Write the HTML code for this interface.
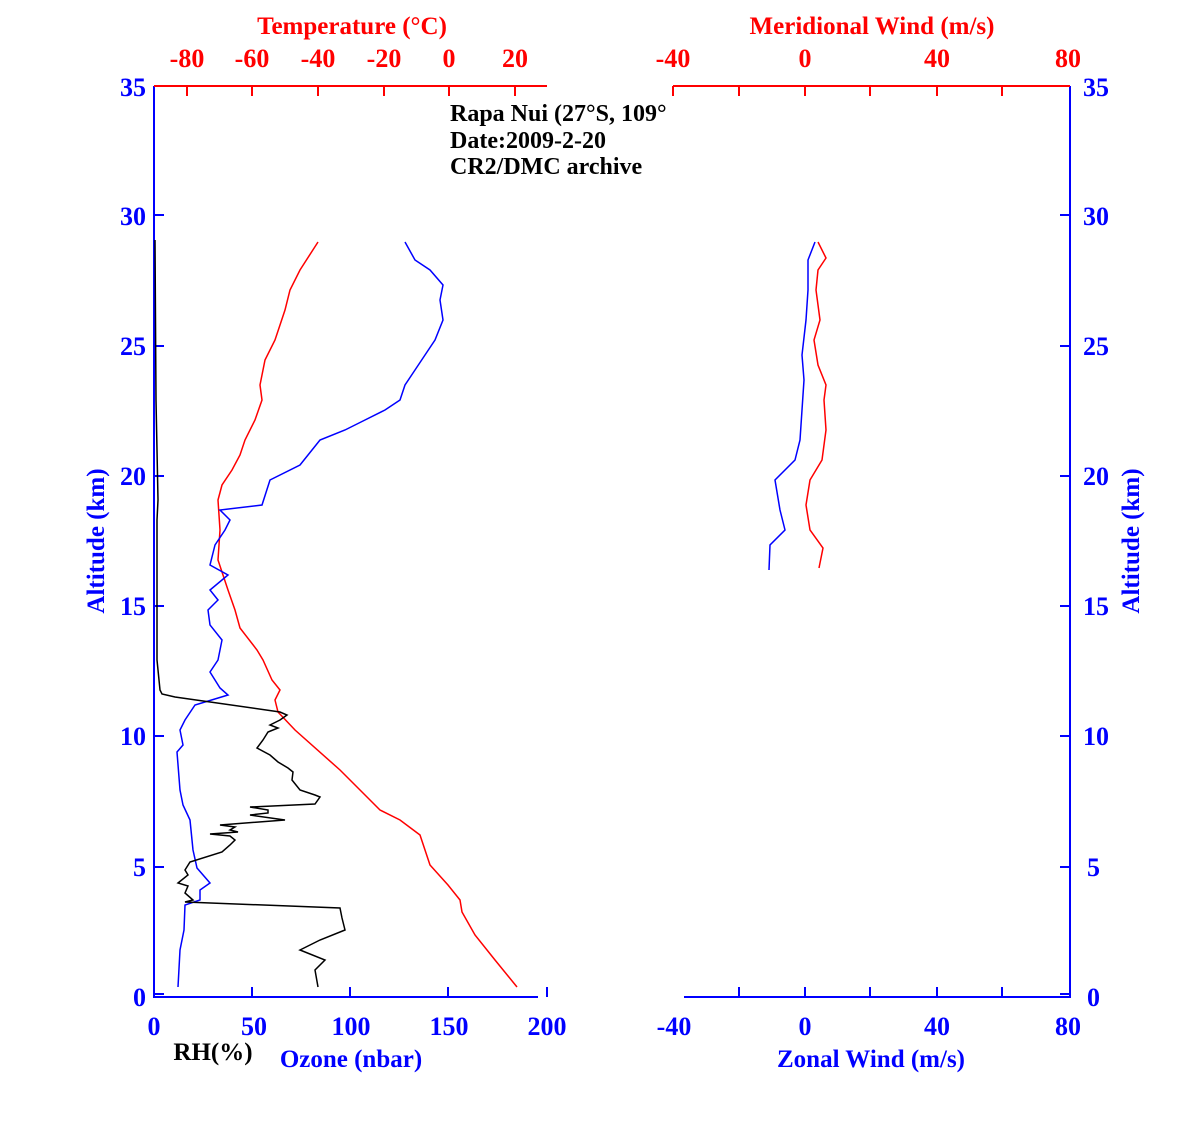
<!DOCTYPE html>
<html><head><meta charset="utf-8"><style>
html,body{margin:0;padding:0;background:#fff}
svg{display:block}
text{font-family:"Liberation Serif",serif;font-weight:bold}
</style></head><body>
<svg width="1181" height="1122" viewBox="0 0 1181 1122" xmlns="http://www.w3.org/2000/svg">
<g fill="none" stroke-width="1.5">
<line x1="154" y1="86" x2="154" y2="998" stroke="#00f" stroke-width="2"/>
<line x1="154" y1="997" x2="538" y2="997" stroke="#00f" stroke-width="2"/>
<g stroke="#00f" stroke-width="2">
<line x1="252" y1="997" x2="252" y2="987"/><line x1="350" y1="997" x2="350" y2="987"/><line x1="448" y1="997" x2="448" y2="987"/><line x1="547" y1="997" x2="547" y2="987"/>
<line x1="154" y1="867" x2="164" y2="867"/><line x1="154" y1="736" x2="164" y2="736"/><line x1="154" y1="606" x2="164" y2="606"/><line x1="154" y1="476" x2="164" y2="476"/><line x1="154" y1="346" x2="164" y2="346"/><line x1="154" y1="215" x2="164" y2="215"/><line x1="154" y1="994" x2="164" y2="994"/>
</g>
<line x1="154" y1="86" x2="547" y2="86" stroke="#f00" stroke-width="2"/>
<g stroke="#f00" stroke-width="2">
<line x1="187" y1="86" x2="187" y2="96"/><line x1="252" y1="86" x2="252" y2="96"/><line x1="318" y1="86" x2="318" y2="96"/><line x1="384" y1="86" x2="384" y2="96"/><line x1="449" y1="86" x2="449" y2="96"/><line x1="515" y1="86" x2="515" y2="96"/>
</g>
<line x1="1070" y1="86" x2="1070" y2="998" stroke="#00f" stroke-width="2"/>
<line x1="684" y1="997" x2="1070" y2="997" stroke="#00f" stroke-width="2"/>
<g stroke="#00f" stroke-width="2">
<line x1="739" y1="997" x2="739" y2="987"/><line x1="805" y1="997" x2="805" y2="987"/><line x1="870" y1="997" x2="870" y2="987"/><line x1="937" y1="997" x2="937" y2="987"/><line x1="1002" y1="997" x2="1002" y2="987"/>
<line x1="1060" y1="867" x2="1070" y2="867"/><line x1="1060" y1="736" x2="1070" y2="736"/><line x1="1060" y1="606" x2="1070" y2="606"/><line x1="1060" y1="476" x2="1070" y2="476"/><line x1="1060" y1="346" x2="1070" y2="346"/><line x1="1060" y1="215" x2="1070" y2="215"/><line x1="1060" y1="994" x2="1070" y2="994"/>
</g>
<line x1="673" y1="86" x2="1070" y2="86" stroke="#f00" stroke-width="2"/>
<g stroke="#f00" stroke-width="2">
<line x1="673" y1="86" x2="673" y2="96"/><line x1="739" y1="86" x2="739" y2="96"/><line x1="805" y1="86" x2="805" y2="96"/><line x1="870" y1="86" x2="870" y2="96"/><line x1="937" y1="86" x2="937" y2="96"/><line x1="1002" y1="86" x2="1002" y2="96"/>
</g>
<polyline stroke="#f00" points="517,987 495,960 475,935 462,912 460,900 448,885 430,865 420,835 400,820 380,810 370,800 340,770 295,730 278,712 275,700 280,690 272,680 263,660 257,650 240,628 235,610 228,590 218,560 220,530 218,500 222,485 232,470 240,455 245,440 255,420 262,400 260,385 265,360 275,340 285,310 290,290 300,270 318,242"/>
<polyline stroke="#00f" points="178,987 180,950 184,930 185,905 200,900 200,890 210,883 197,868 193,850 190,820 183,805 180,790 177,752 183,745 180,730 185,720 195,705 228,695 220,688 210,672 218,660 222,640 210,625 208,610 218,600 210,590 228,575 210,565 215,545 225,530 230,520 220,510 262,505 270,480 300,465 320,440 345,430 365,420 385,410 400,400 405,385 415,370 425,355 435,340 443,320 440,300 443,285 430,270 415,260 405,242"/>
<polyline stroke="#000" points="318,987 315,970 325,960 300,950 320,940 345,930 342,918 340,908 185,902 193,900 185,893 188,886 178,883 188,875 185,870 190,862 222,852 230,845 235,840 230,836 210,834 238,832 230,830 235,827 220,825 285,820 250,815 268,813 268,810 250,807 315,804 320,797 315,795 300,790 292,780 293,772 288,768 278,762 270,755 257,748 263,740 268,732 278,728 270,725 280,720 287,715 280,712 175,697 162,694 160,690 157,660 157,600 157,520 158,500 156,400 155,240"/>
<polyline stroke="#f00" points="819,568 823,548 810,530 806,505 810,480 822,460 826,430 824,400 826,385 818,365 814,340 820,320 816,290 818,270 826,258 818,242"/>
<polyline stroke="#00f" points="769,570 770,545 785,530 780,510 775,480 795,460 800,440 802,410 804,380 802,355 806,320 808,290 808,260 815,242"/>
</g>
<g font-size="26" fill="#00f" text-anchor="end">
<text x="146" y="96">35</text><text x="146" y="225">30</text><text x="146" y="355">25</text><text x="146" y="485">20</text><text x="146" y="615">15</text><text x="146" y="745">10</text><text x="146" y="876">5</text><text x="146" y="1006">0</text>
</g>
<g font-size="26" fill="#00f" text-anchor="start">
<text x="1083" y="96">35</text><text x="1083" y="225">30</text><text x="1083" y="355">25</text><text x="1083" y="485">20</text><text x="1083" y="615">15</text><text x="1083" y="745">10</text><text x="1087" y="876">5</text><text x="1087" y="1006">0</text>
</g>
<g font-size="26" fill="#00f" text-anchor="middle">
<text x="154" y="1035">0</text><text x="254" y="1035">50</text><text x="351" y="1035">100</text><text x="449" y="1035">150</text><text x="547" y="1035">200</text>
<text x="674" y="1035">-40</text><text x="805" y="1035">0</text><text x="937" y="1035">40</text><text x="1068" y="1035">80</text>
</g>
<g font-size="26" fill="#f00" text-anchor="middle">
<text x="187" y="67">-80</text><text x="252" y="67">-60</text><text x="318" y="67">-40</text><text x="384" y="67">-20</text><text x="449" y="67">0</text><text x="515" y="67">20</text>
<text x="673" y="67">-40</text><text x="805" y="67">0</text><text x="937" y="67">40</text><text x="1068" y="67">80</text>
</g>
<g font-size="25">
<text x="352" y="34" fill="#f00" text-anchor="middle">Temperature (°C)</text>
<text x="872" y="34" fill="#f00" text-anchor="middle">Meridional Wind (m/s)</text>
<text x="213" y="1060" fill="#000" text-anchor="middle">RH(%)</text>
<text x="351" y="1067" fill="#00f" text-anchor="middle">Ozone (nbar)</text>
<text x="871" y="1067" fill="#00f" text-anchor="middle">Zonal Wind (m/s)</text>
<text transform="translate(104,541) rotate(-90)" fill="#00f" text-anchor="middle">Altitude (km)</text>
<text transform="translate(1139,541) rotate(-90)" fill="#00f" text-anchor="middle">Altitude (km)</text>
</g>
<svg x="0" y="0" width="674" height="200" overflow="hidden">
<g font-size="24" fill="#000">
<text x="450" y="121">Rapa Nui (27°S, 109°</text>
<text x="450" y="148">Date:2009-2-20</text>
<text x="450" y="174">CR2/DMC archive</text>
</g>
</svg>
</svg>
</body></html>
